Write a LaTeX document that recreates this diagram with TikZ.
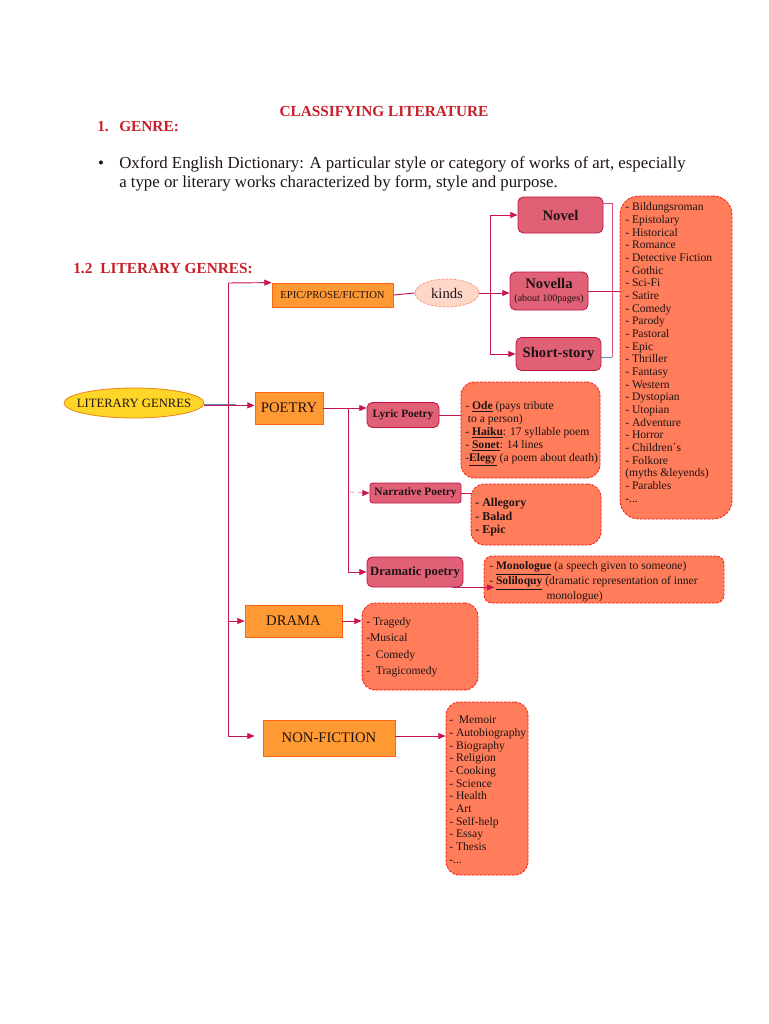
\documentclass[tikz,border=0pt]{standalone}
\usepackage{fontspec}
\setmainfont{Liberation Serif}
\usetikzlibrary{arrows.meta,shapes.geometric}
\definecolor{titlered}{RGB}{200,30,40}
\definecolor{linkcol}{RGB}{200,20,80}
\definecolor{pinkcol}{RGB}{210,80,130}
\definecolor{orfill}{RGB}{255,153,51}
\definecolor{ordraw}{RGB}{255,100,20}
\definecolor{rosefill}{RGB}{224,96,118}
\definecolor{rosedraw}{RGB}{190,20,70}
\definecolor{coral}{RGB}{255,125,90}
\definecolor{dashred}{RGB}{250,20,20}
\definecolor{yel}{RGB}{255,214,40}
\definecolor{yeldraw}{RGB}{235,130,20}
\definecolor{kindfill}{RGB}{255,215,200}
\definecolor{kinddraw}{RGB}{255,140,110}
\definecolor{txt}{RGB}{30,20,20}
\definecolor{bluel}{RGB}{90,140,200}
\tikzset{
  orbox/.style={draw=ordraw, fill=orfill, line width=0.6pt, inner sep=0pt, text=txt},
  rosebox/.style={draw=rosedraw, fill=rosefill, line width=0.6pt, rounded corners=4pt, inner sep=0pt, text=txt, font=\bfseries},
  listbox/.style={draw=dashred, fill=coral, dashed, dash pattern=on 2pt off 1pt, line width=0.6pt, rounded corners=10pt, inner sep=0pt},
  lt/.style={anchor=north west, inner sep=0pt, align=left, text=txt, font=\fontsize{8.5}{9.45}\selectfont},
  link/.style={draw=linkcol, line width=0.7pt},
  arr/.style={link, -{Triangle[length=5.5pt,width=4.5pt]}},
  heading/.style={anchor=base west, inner sep=0pt, text=titlered, font=\fontsize{11.5}{13}\selectfont\bfseries}
}
\begin{document}
\begin{tikzpicture}[x=0.75pt,y=-0.75pt]
\useasboundingbox (0,0) rectangle (768,1024);
\fill[white] (0,0) rectangle (768,1024);

% headings
\node[heading, anchor=base] (title) at (384,116) {CLASSIFYING LITERATURE};
\node[heading] (one) at (97,132) {1.};
\node[heading] (genre) at (119,132) {GENRE:};
\node[anchor=base, inner sep=0pt, text=txt, font=\fontsize{12.6}{14.25}\selectfont] (bullet) at (101,168) {•};
\node[anchor=base west, inner sep=0pt, align=left, text=txt, font=\fontsize{12.6}{14.25}\selectfont] (def) at (119,187)
  {Oxford English Dictionary: A particular style or category of works of art, especially\\a type or literary works characterized by form, style and purpose.};
\node[heading] (onetwo) at (73,273) {1.2\hspace{6pt}LITERARY GENRES:};

% main nodes
\node[ellipse, draw=yeldraw, fill=yel, line width=0.6pt, minimum width=105pt, minimum height=22.5pt, inner sep=0pt, text=txt, font=\fontsize{9.5}{11}\selectfont] (lg) at (134,403) {\makebox[0pt]{LITERARY GENRES}};
\node[orbox, minimum width=90.75pt, minimum height=18pt, font=\fontsize{8}{9}\selectfont] (epic) at (332.5,295) {EPIC/PROSE/FICTION};
\node[orbox, minimum width=51pt, minimum height=24pt, font=\fontsize{11}{12}\selectfont] (poetry) at (289,408) {POETRY};
\node[orbox, minimum width=72.75pt, minimum height=24pt, font=\fontsize{11}{12}\selectfont] (drama) at (293.5,621) {DRAMA};
\node[orbox, minimum width=99pt, minimum height=27pt, font=\fontsize{11}{12}\selectfont] (nonfic) at (329,738) {NON-FICTION};

\node[ellipse, draw=kinddraw, fill=kindfill, dashed, dash pattern=on 2pt off 1pt, line width=0.5pt, minimum width=48pt, minimum height=21pt, inner sep=0pt, text=txt, font=\fontsize{11}{12}\selectfont] (kinds) at (447,293) {\makebox[0pt]{kinds}};

\node[rosebox, minimum width=63.75pt, minimum height=27pt, font=\fontsize{11}{12}\selectfont\bfseries] (novel) at (560.5,215) {Novel};
\node[rosebox, minimum width=58.5pt, minimum height=28.5pt, align=center, font=\fontsize{11}{11}\selectfont\bfseries] (novella) at (549,291) {Novella\\[-1pt]{\mdseries\fontsize{7.5}{8}\selectfont(about 100pages)}};
\node[rosebox, minimum width=63.75pt, minimum height=24.75pt, font=\fontsize{11}{12}\selectfont\bfseries] (short) at (558.5,354) {Short-story};

\node[rosebox, minimum width=54pt, minimum height=18.75pt, font=\fontsize{8.5}{9}\selectfont\bfseries] (lyric) at (403,415) {Lyric Poetry};
\node[rosebox, minimum width=68.25pt, minimum height=15pt, rounded corners=2pt, font=\fontsize{8.5}{9}\selectfont\bfseries] (narr) at (415.5,493) {Narrative Poetry};
\node[rosebox, minimum width=72pt, minimum height=22.5pt, font=\fontsize{9.5}{10}\selectfont\bfseries] (dram) at (415,572) {Dramatic poetry};

% list boxes
\node[listbox, minimum width=84pt, minimum height=242.25pt, rounded corners=14pt] (biglist) at (676,357.5) {};
\node[listbox, minimum width=104.25pt, minimum height=72pt] (lyriclist) at (530.5,430) {};
\node[listbox, minimum width=97.5pt, minimum height=45.75pt] (narrlist) at (536,514.5) {};
\node[listbox, minimum width=180pt, minimum height=35.25pt, rounded corners=6pt] (dramlist) at (604,579.5) {};
\node[listbox, minimum width=87pt, minimum height=65.25pt] (dramalist) at (420,646.5) {};
\node[listbox, minimum width=61.5pt, minimum height=129.75pt] (nflist) at (487,788.5) {};

% list texts
\node[lt, font=\fontsize{8.7}{9.5}\selectfont] (biglistT) at (625,202.5) {- Bildungsroman\\- Epistolary\\- Historical\\- Romance\\- Detective Fiction\\- Gothic\\- Sci-Fi\\- Satire\\- Comedy\\- Parody\\- Pastoral\\- Epic\\- Thriller\\- Fantasy\\- Western\\- Dystopian\\- Utopian\\- Adventure\\- Horror\\- Children´s\\- Folkore\\(myths \&leyends)\\- Parables\\-...};
\node[lt, font=\fontsize{8.7}{9.75}\selectfont] (lyriclistT) at (465,401) {- \underline{\textbf{Ode}} (pays tribute\\\hspace*{2pt}to a person)\\- \underline{\textbf{Haiku}}: 17 syllable poem\\- \underline{\textbf{Sonet}}: 14 lines\\-\underline{\textbf{Elegy}} (a poem about death)};
\node[lt, font=\fontsize{9}{10.1}\selectfont\bfseries] (narrlistT) at (475,498) {- Allegory\\- Balad\\- Epic};
\node[lt, font=\fontsize{8.7}{9.75}\selectfont] (dramlistT) at (489,561.5) {- \underline{\textbf{Monologue}} (a speech given to someone)\\- \underline{\textbf{Soliloquy}} (dramatic representation of inner\\\hspace*{43pt}monologue)};
\node[lt, font=\fontsize{8.7}{12.3}\selectfont] (dramalistT) at (366,617) {- Tragedy\\-Musical\\-\ \ Comedy\\-\ \ Tragicomedy};
\node[lt, font=\fontsize{8.7}{9.5}\selectfont] (nflistT) at (449,716) {-\ \ Memoir\\- Autobiography\\- Biography\\- Religion\\- Cooking\\- Science\\- Health\\- Art\\- Self-help\\- Essay\\- Thesis\\-...};

% connectors: trunk
\coordinate (trunkTop) at (228,283);
\coordinate (trunkBot) at (228,736);
\coordinate (lgb) at (204,404.2);
\coordinate (lgr) at (204,405.4);
\draw[draw=bluel, line width=0.7pt] (lg.east |- lgb) -- ++(32,0);
\draw[arr] (lg.east |- lgr) -- (poetry.west |- lgr);
\draw[link] (trunkTop) -- (trunkBot);
\draw[arr] (trunkTop) -- (epic.north west);
\draw[arr] (trunkTop |- drama.west) -- (drama.west);
\draw[arr, shorten >=6pt] (trunkBot) -- (nonfic.west |- trunkBot);

% epic branch
\coordinate (kfork) at (490,293);
\draw[link] (epic.east) -- (kinds.west);
\draw[arr] (kinds.east) -- (novella.west |- kinds.east);
\draw[link] (kfork |- novel.west) -- (kfork |- short.west);
\draw[arr] (kfork |- novel.west) -- (novel.west);
\draw[arr] (kfork |- short.west) -- (short.west);
\coordinate (brT) at (612,203);
\coordinate (brB) at (612,357);
\draw[draw=pinkcol, line width=0.7pt] (novel.east |- brT) -- (brT) -- (brB);
\draw[draw=bluel, line width=0.7pt] (brB) -- (short.east |- brB);
\draw[link] (novella.east) -- (biglist.west |- novella.east);

% poetry branch
\coordinate (pfork) at (348,408);
\draw[link] (poetry.east) -- (pfork) -- (pfork |- dram.west);
\draw[arr] (pfork) -- (lyric.west |- pfork);
\draw[draw=pinkcol!60, line width=0.6pt, dashed] (350,492) -- (narr.west);
\draw[arr] ([xshift=-4pt]narr.west) -- (narr.west);
\draw[arr] (pfork |- dram.west) -- (dram.west);
\draw[link] (lyric.east) -- (lyriclist.west |- lyric.east);
\draw[link] (narr.east) -- (narrlist.west |- narr.east);
\draw[arr] ([xshift=-8pt]dram.south east) -- ([xshift=8pt]dramlist.west |- dram.south east);

% drama and non-fiction
\draw[arr] (drama.east) -- (dramalist.west |- drama.east);
\draw[arr] (nonfic.east |- trunkBot) -- (nflist.west |- trunkBot);
\end{tikzpicture}
\end{document}
